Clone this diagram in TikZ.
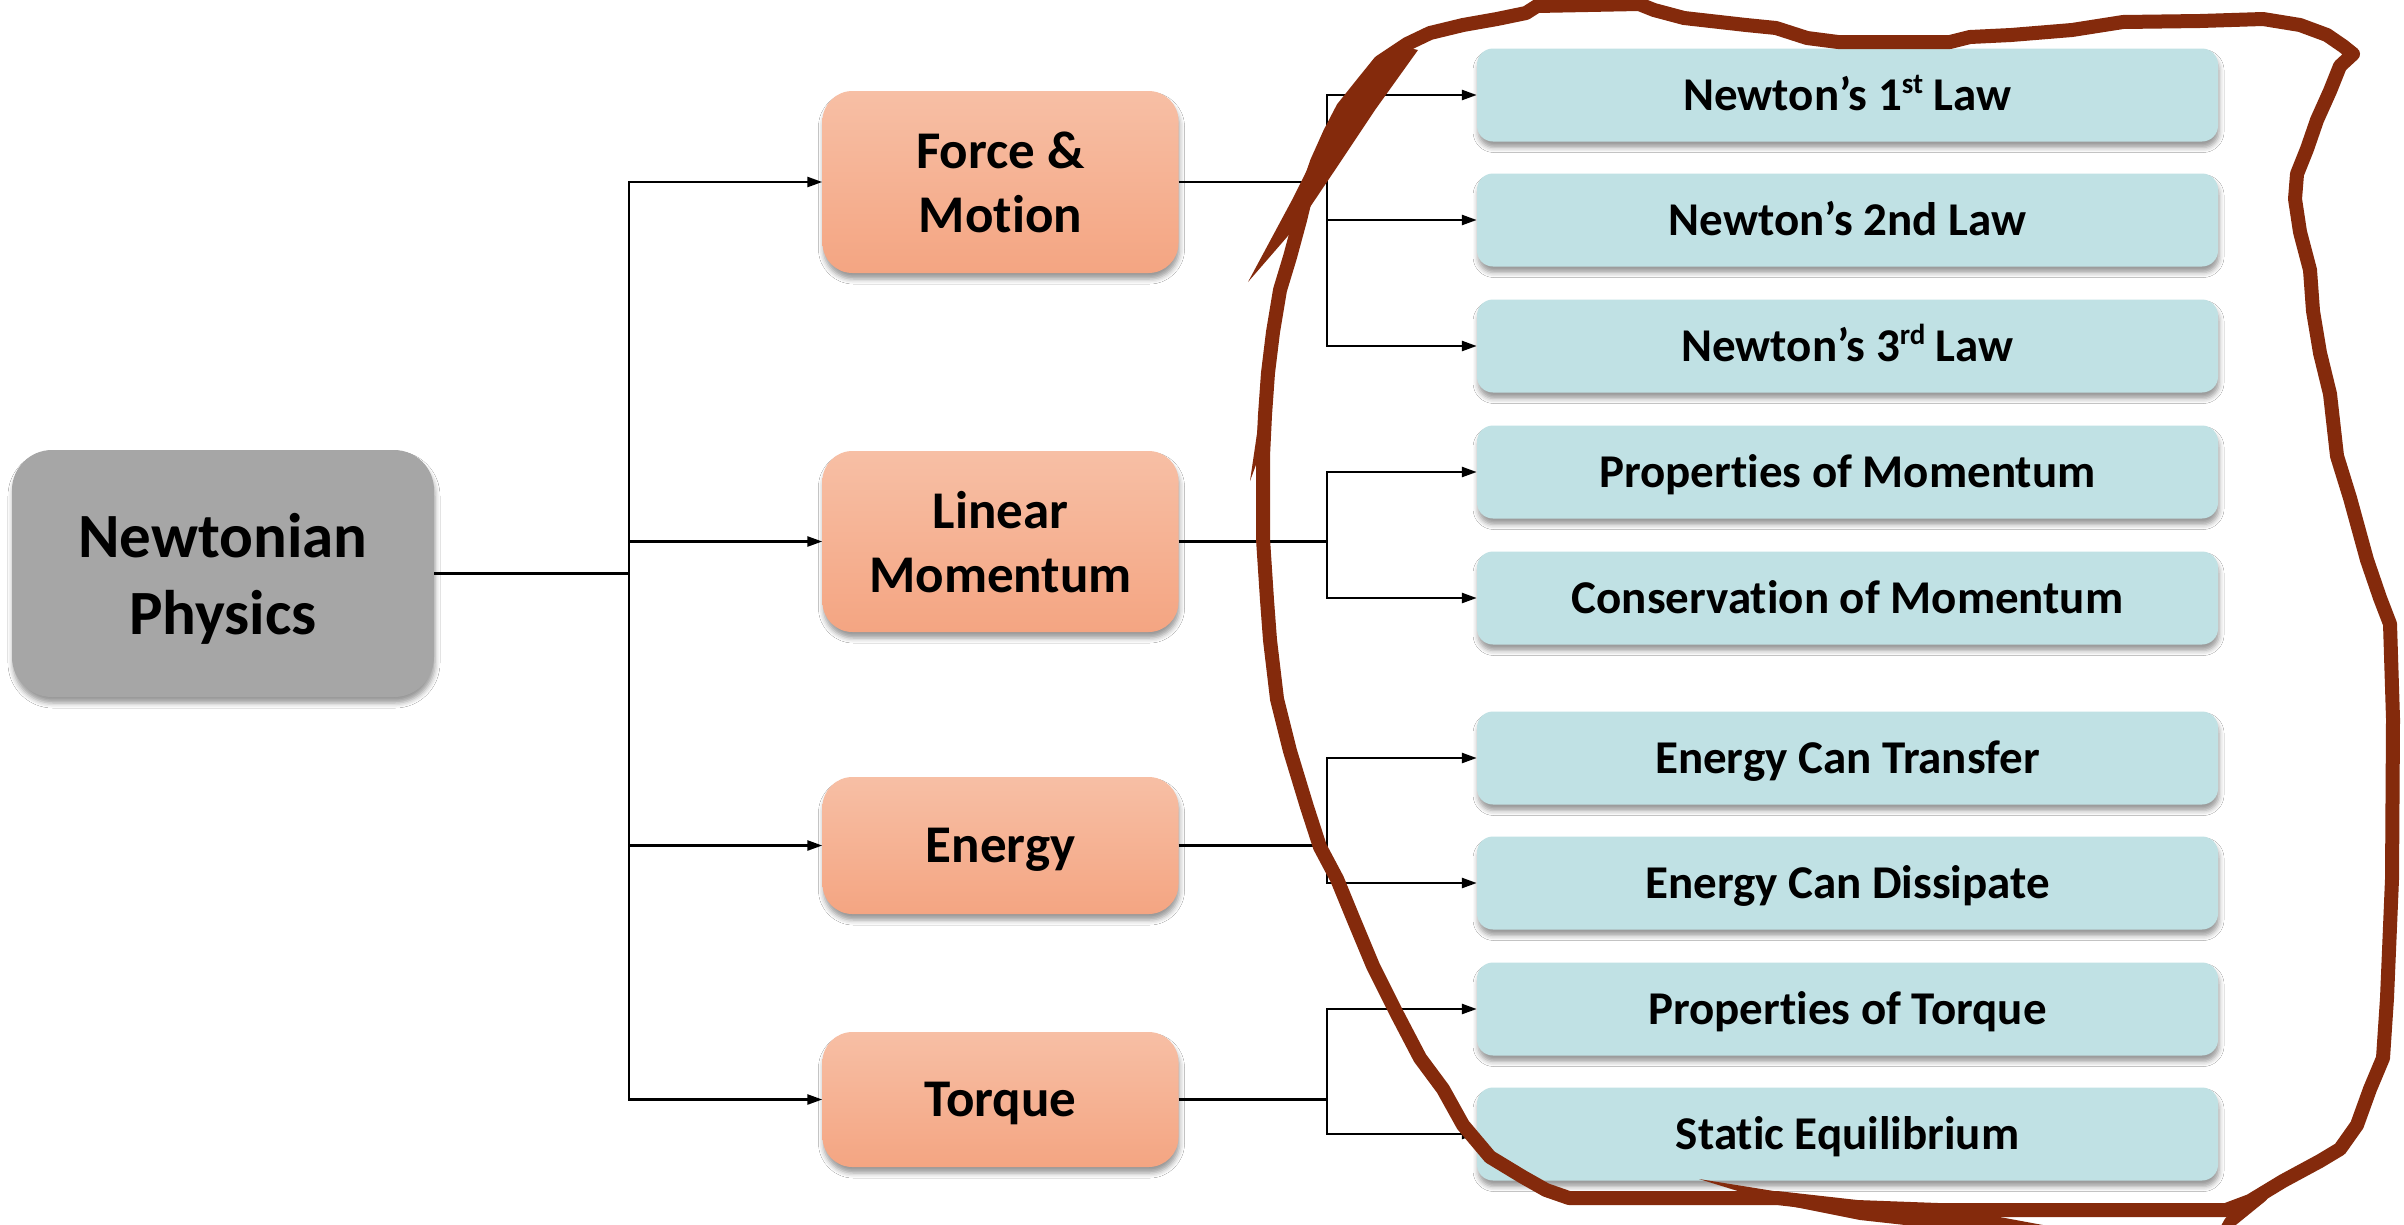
\documentclass[tikz,border=0pt]{standalone}
\usepackage{fontspec}
\setmainfont{Carlito}[Ligatures=CommonOff]
\usetikzlibrary{shadows.blur,arrows.meta}
\definecolor{grayb}{RGB}{166,166,166}
\definecolor{peachT}{RGB}{247,191,165}
\definecolor{peachB}{RGB}{244,165,130}
\definecolor{tealb}{RGB}{192,225,228}
\definecolor{marker}{RGB}{132,42,12}
\newcommand{\supsc}[1]{\raisebox{17pt}{\fontsize{29}{29}\selectfont #1}}
\begin{document}
\begin{tikzpicture}[x=1pt,y=-1pt,
  shad/.style={blur shadow={shadow xshift=1pt,shadow yshift=-6pt,shadow blur radius=5pt,shadow opacity=40}},
  rootbox/.style={shad, fill=grayb, rounded corners=40pt, minimum width=422pt, minimum height=247pt, align=center, font=\fontsize{63}{77}\selectfont\bfseries, inner sep=0pt, text depth=0pt},
  midbox/.style={shad, top color=peachT, bottom color=peachB, draw=none, rounded corners=30pt, minimum width=356pt, align=center, font=\fontsize{53}{64}\selectfont\bfseries, inner sep=0pt, text depth=0pt},
  midone/.style={midbox, text height=34pt},
  leafbox/.style={shad, fill=tealb, rounded corners=16pt, minimum width=741pt, minimum height=93pt, font=\fontsize{47}{56}\selectfont\bfseries, inner sep=0pt, text height=30pt, text depth=0pt},
  link/.style={line width=2.5pt, draw=black},
  arr/.style={link, -{Triangle[length=15pt,width=10pt]}},
  pen/.style={draw=marker, line width=14pt, line cap=round, line join=round},
]
\useasboundingbox (0,0) rectangle (2404,1224);
\fill[white] (0,0) rectangle (2404,1224);

% nodes
\node[rootbox] (np) at (223,573.5) {Newtonian\\Physics};
\node[midbox, minimum height=182pt] (fm) at (1000.5,182) {Force \&\\Motion};
\node[midbox, minimum height=181pt] (lm) at (1000.5,541.5) {Linear\\Momentum};
\node[midone, minimum height=137pt] (en) at (1000.5,845.5) {Energy};
\node[midone, minimum height=135pt] (tq) at (1000.5,1099.5) {Torque};

\node[leafbox] (l1) at (1847.5,95) {Newton’s 1\supsc{st} Law};
\node[leafbox] (l2) at (1847.5,220) {Newton’s 2nd Law};
\node[leafbox] (l3) at (1847.5,346) {Newton’s 3\supsc{rd} Law};
\node[leafbox] (l4) at (1847.5,472) {Properties of Momentum};
\node[leafbox] (l5) at (1847.5,598) {Conservation of Momentum};
\node[leafbox] (l6) at (1847.5,758) {Energy Can Transfer};
\node[leafbox] (l7) at (1847.5,883) {Energy Can Dissipate};
\node[leafbox] (l8) at (1847.5,1009) {Properties of Torque};
\node[leafbox] (l9) at (1847.5,1134) {Static Equilibrium};

% connectors
\coordinate (tr) at (629,0);
\coordinate (cr) at (1327,0);
\draw[link] (np.east) -- (np.east -| tr);
\draw[arr] (np.east -| tr) |- (fm.west);
\draw[arr] (np.east -| tr) |- (lm.west);
\draw[arr] (np.east -| tr) |- (en.west);
\draw[arr] (np.east -| tr) |- (tq.west);

\draw[link] (fm.east) -- (fm.east -| cr);
\draw[arr] (fm.east -| cr) |- (l1.west);
\draw[arr] (fm.east -| cr) |- (l2.west);
\draw[arr] (fm.east -| cr) |- (l3.west);

\draw[link] (lm.east) -- (lm.east -| cr);
\draw[arr] (lm.east -| cr) |- (l4.west);
\draw[arr] (lm.east -| cr) |- (l5.west);

\draw[link] (en.east) -- (en.east -| cr);
\draw[arr] (en.east -| cr) |- (l6.west);
\draw[arr] (en.east -| cr) |- (l7.west);

\draw[link] (tq.east) -- (tq.east -| cr);
\draw[arr] (tq.east -| cr) |- (l8.west);
\draw[arr] (tq.east -| cr) |- (l9.west);

% hand-drawn marker loop
\begin{scope}
\clip (0,0) rectangle (2404,1224);
\draw[pen] (1407,44) -- (1430,33) -- (1463,25) -- (1497,19) -- (1526,13) -- (1537,6) -- (1639,4) -- (1654,10) -- (1684,18) -- (1746,25) -- (1776,28) -- (1807,38) -- (1838,42) -- (1950,42) -- (1970,37) -- (2011,35) -- (2072,30) -- (2123,22) -- (2200,21) -- (2263,19) -- (2300,25) -- (2327,35) -- (2343,46) -- (2353,54) -- (2340,66) -- (2330,91) -- (2317,120) -- (2307,149) -- (2297,174) -- (2295,199) -- (2300,232) -- (2310,270) -- (2313,311) -- (2320,353) -- (2330,394) -- (2337,456) -- (2350,498) -- (2367,560) -- (2380,598) -- (2390,624) -- (2393,719) -- (2392,879) -- (2387,998) -- (2383,1058) -- (2370,1089) -- (2357,1125) -- (2340,1149) -- (2320,1161) -- (2283,1181) -- (2250,1201) -- (2226,1210) -- (1938,1210) -- (1857,1207) -- (1777,1198) -- (1569,1198) -- (1546,1190) -- (1523,1177) -- (1490,1157) -- (1463,1125) -- (1443,1089) -- (1420,1058) -- (1397,1014) -- (1373,966) -- (1353,918) -- (1337,879) -- (1320,847) -- (1307,807) -- (1290,751) -- (1277,699) -- (1270,640) -- (1267,600) -- (1263,539) -- (1263,456) -- (1265,415) -- (1268,373) -- (1273,332) -- (1280,290) -- (1290,257) -- (1300,220) -- (1307,191) -- (1317,162) -- (1330,133) -- (1343,108) -- (1363,83) -- (1380,62) -- cycle;
% tapered tails
\fill[marker] (1248,282) -- (1300,222) -- (1335,170) -- (1375,110) -- (1418,50) -- (1400,46) -- (1362,86) -- (1322,140) -- (1292,200) -- cycle;
\fill[marker] (1250,481) -- (1259,420) -- (1271,424) -- cycle;
\fill[marker] (1699,1179) -- (1780,1192) -- (1860,1203) -- (1940,1206) -- (2070,1230) -- (1950,1230) -- (1860,1220) -- (1780,1204) -- cycle;
\draw[pen, line width=12pt] (2262,1196) -- (2230,1222) -- (2220,1240);
\end{scope}
\end{tikzpicture}
\end{document}
